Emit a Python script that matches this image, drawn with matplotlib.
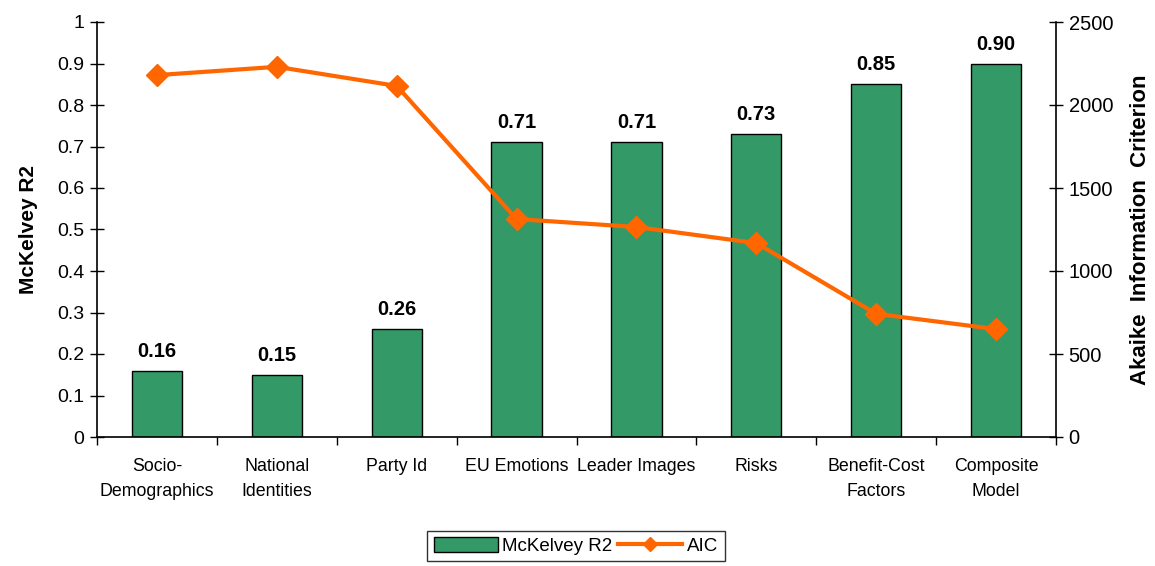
import matplotlib
matplotlib.use("Agg")
import matplotlib.pyplot as plt
import numpy as np
from matplotlib.patches import Patch
from matplotlib.lines import Line2D
from matplotlib.ticker import MultipleLocator, FixedLocator, FuncFormatter

categories = ["Socio-\nDemographics", "National\nIdentities", "Party Id", "EU Emotions",
              "Leader Images", "Risks", "Benefit-Cost\nFactors", "Composite\nModel"]
r2_values = [0.16, 0.15, 0.26, 0.71, 0.71, 0.73, 0.85, 0.90]
aic_values = [2180, 2230, 2115, 1313, 1265, 1168, 742, 650]

GREEN = "#339966"
ORANGE = "#FF6600"
plt.rcParams['font.family'] = ['Liberation Sans', 'DejaVu Sans']

fig = plt.figure(figsize=(11.55, 5.66), dpi=100)
ax = fig.add_axes([97/1155, 1-437/566, (1056-97)/1155, (437-22)/566])
x = np.arange(len(categories))

ax.bar(x, r2_values, width=0.42, color=GREEN, edgecolor="black", linewidth=1.0, zorder=2)
for xi, v in zip(x, r2_values):
    ax.text(xi, v + 0.024, f"{v:.2f}", ha="center", va="bottom",
            fontsize=14.5, fontweight="bold")

ax.set_xlim(-0.5, len(categories) - 0.5)
ax.set_ylim(0, 1)
ax.yaxis.set_major_locator(MultipleLocator(0.1))
ax.yaxis.set_major_formatter(FuncFormatter(
    lambda v, p: f"{int(round(v))}" if abs(v - round(v)) < 1e-9 else f"{v:.1f}"))
ax.set_xticks(x)
ax.set_xticklabels(categories, fontsize=12.8, linespacing=1.6)
ax.xaxis.set_minor_locator(FixedLocator(np.arange(-0.5, len(categories), 1.0)))
ax.tick_params(axis="x", which="major", length=0, pad=15)
ax.tick_params(axis="x", which="minor", length=6, direction="out", width=1)
ax.tick_params(axis="y", which="major", length=10, direction="inout", width=1, labelsize=14, pad=4)
for s in ["top", "right"]:
    ax.spines[s].set_visible(False)
for s in ["left", "bottom"]:
    ax.spines[s].set_linewidth(1.2)
ax.set_ylabel("McKelvey R2", fontsize=15, fontweight="bold", labelpad=14)

ax2 = ax.twinx()
ax2.set_ylim(0, 2500)
ax2.yaxis.set_major_locator(MultipleLocator(500))
ax2.tick_params(axis="y", which="major", length=10, direction="inout", width=1, labelsize=14.5, pad=4)
for s in ["top", "left", "bottom"]:
    ax2.spines[s].set_visible(False)
ax2.spines["right"].set_linewidth(1.2)
ax2.set_ylabel("Akaike  Information  Criterion", fontsize=16, fontweight="bold", labelpad=12)

ax2.plot(x, aic_values, color=ORANGE, linewidth=3.0, marker="D", markersize=11, zorder=4)

handles = [Patch(facecolor=GREEN, edgecolor="black", linewidth=1.0),
           Line2D([0], [0], color=ORANGE, linewidth=3.0, marker="D", markersize=7)]
leg = fig.legend(handles, ["McKelvey R2", "AIC"], loc="center", bbox_to_anchor=(576/1155, 1-546/566),
                 ncol=2, frameon=True, fancybox=False, fontsize=13.5, handlelength=3.4,
                 handletextpad=0.25, columnspacing=0.3, borderpad=0.35, handleheight=0.8)
leg.get_frame().set_edgecolor("black")
leg.get_frame().set_linewidth(1.0)

fig.savefig("out.png", dpi=100)
